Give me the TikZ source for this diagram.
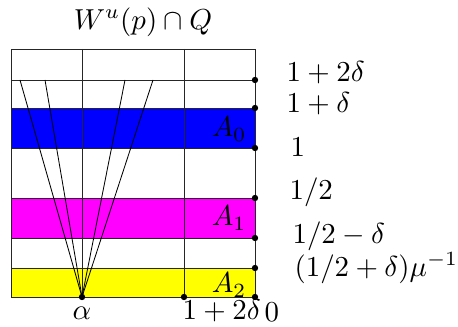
\documentclass[tikz,border=0pt]{standalone}
\definecolor{bandblue}{rgb}{0,0,1}
\definecolor{bandmag}{rgb}{1,0,1}
\definecolor{bandyel}{rgb}{1,1,0}
\begin{document}
\begin{tikzpicture}[x=0.36pt,y=-0.36pt,
  every node/.append style={scale=1.04},
  gridline/.style={draw=black!85,line width=0.35pt},
  fan/.style={draw=black,line width=0.3pt},
  dot/.style={circle,fill=black,inner sep=0pt,minimum size=2.2pt},
  lab/.style={inner sep=0pt,anchor=west}]
\useasboundingbox (0,0) rectangle (458,326);
% bands
\fill[bandblue] (11,108) rectangle (255,148);
\fill[bandmag] (11,198) rectangle (255,238);
\fill[bandyel] (11,268) rectangle (255,297);
% grid
\draw[gridline] (11,49) rectangle (255,297);
\foreach \y in {80,108,148,198,238,268} \draw[gridline] (11,\y) -- (255,\y);
\draw[gridline] (82,49) -- (82,297);
\draw[gridline] (184,49) -- (184,297);
% fan
\coordinate (al) at (82,297);
\coordinate (f1) at (20,80);
\coordinate (f2) at (45,80);
\coordinate (f3) at (125,80);
\coordinate (f4) at (153,80);
\foreach \f in {f1,f2,f3,f4} \draw[fan] (al) -- (\f);
% dots
\foreach \y/\n in {80/d1,108/d2,148/d3,198/d4,238/d5,268/d6,297/d7} \node[dot] (\n) at (255,\y) {};
\node[dot] (da) at (82,297) {};
\node[dot] (db) at (184,297) {};
% band labels
\node[inner sep=0pt,anchor=east] (A0) at (247,129) {$A_0$};
\node[inner sep=0pt,anchor=east] (A1) at (247,218) {$A_1$};
\node[inner sep=0pt,anchor=east] (A2) at (247,285) {$A_2$};
% title
\node (t) at (143,22) {$W^u(p)\cap Q$};
% right labels
\node[lab] (r1) at (286,73) {$1+2\delta$};
\node[lab] (r2) at (286,104) {$1+\delta$};
\node[lab] (r3) at (290,147) {$1$};
\node[lab] (r4) at (289,192) {$1/2$};
\node[lab] (r5) at (292,236) {$1/2-\delta$};
\node[lab] (r6) at (294,268) {$(1/2+\delta)\mu^{-1}$};
% bottom labels
\node[inner sep=0pt] (ba) at (82,313) {$\alpha$};
\node[lab] (bb) at (182,311) {$1+2\delta$};
\node[lab] (bc) at (264,312) {$0$};
\end{tikzpicture}
\end{document}
